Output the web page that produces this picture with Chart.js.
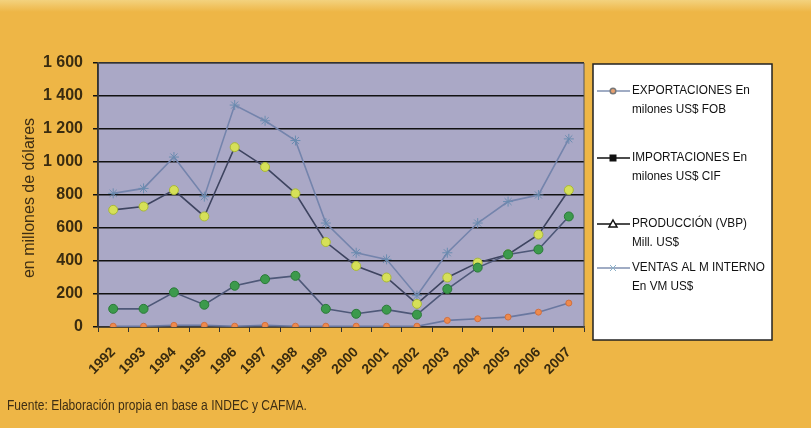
<!DOCTYPE html>
<html>
<head>
<meta charset="utf-8">
<script src="https://cdn.jsdelivr.net/npm/chart.js@4/dist/chart.umd.min.js"></script>
<style>
html,body{margin:0;padding:0;background:#eeb646;}
#wrap{position:relative;width:811px;height:428px;}
</style>
</head>
<body>
<div id="wrap"><canvas id="c" width="811" height="428"></canvas></div>
<script>
const years = ['1992','1993','1994','1995','1996','1997','1998','1999','2000','2001','2002','2003','2004','2005','2006','2007'];
const exportaciones = [5,5,10,10,5,10,5,5,5,5,5,40,50,60,90,145];
const importaciones = [110,110,210,135,250,290,310,110,80,105,75,230,360,440,470,670];
const produccion = [710,730,830,670,1090,970,810,515,370,300,140,300,390,440,560,830];
const ventas = [810,840,1030,790,1345,1250,1130,630,450,410,190,450,630,760,800,1140];
const yTicks = ['0','200','400','600','800','1 000','1 200','1 400','1 600'];
const labels = [
  ['EXPORTACIONES En','milones US$ FOB'],
  ['IMPORTACIONES En','milones US$ CIF'],
  ['PRODUCCIÓN (VBP)','Mill. US$'],
  ['VENTAS AL M INTERNO','En VM US$']
];
const yTitle = 'en millones de dólares';
const source = 'Fuente: Elaboración propia en base a INDEC y CAFMA.';

const FONT = "'Liberation Sans','Arial',sans-serif";

const bgPlugin = {
  id:'bg',
  beforeDraw(chart){
    const {ctx, chartArea:a} = chart;
    ctx.save();
    const g = ctx.createLinearGradient(0,0,0,12);
    g.addColorStop(0,'#f3d27e'); g.addColorStop(1,'#eeb646');
    ctx.fillStyle = '#eeb646';
    ctx.fillRect(0,0,chart.width,chart.height);
    ctx.fillStyle = g;
    ctx.fillRect(0,0,chart.width,12);
    ctx.fillStyle = '#aaa8c6';
    ctx.fillRect(a.left,a.top,a.right-a.left,a.bottom-a.top);
    ctx.restore();
  },
  afterDraw(chart){
    const {ctx, chartArea:a} = chart;
    ctx.save();
    ctx.strokeStyle='#333'; ctx.lineWidth=1.5;
    ctx.beginPath(); ctx.moveTo(a.left,a.top); ctx.lineTo(a.left,a.bottom); ctx.stroke();
    ctx.strokeStyle='#555'; ctx.lineWidth=1;
    ctx.beginPath(); ctx.moveTo(a.left,a.top); ctx.lineTo(a.right,a.top); ctx.lineTo(a.right,a.bottom); ctx.stroke();
    // legend box
    const lx=593, ly=64, lw=179, lh=276;
    ctx.fillStyle='#ffffff'; ctx.fillRect(lx,ly,lw,lh);
    ctx.strokeStyle='#222'; ctx.lineWidth=1.5; ctx.strokeRect(lx,ly,lw,lh);
    const rows=[91,158,224,268];
    const ds = chart.data.datasets;
    rows.forEach((y,i)=>{
      const d = ds[i];
      ctx.strokeStyle = i===1||i===2 ? '#111' : '#8090b0';
      ctx.lineWidth = 1.5;
      ctx.beginPath(); ctx.moveTo(597,y); ctx.lineTo(630,y); ctx.stroke();
      const cx=613;
      if(i===0){ctx.fillStyle='#e8a070';ctx.strokeStyle='#777';ctx.beginPath();ctx.arc(cx,y,2.8,0,Math.PI*2);ctx.fill();ctx.stroke();}
      if(i===1){ctx.fillStyle='#111';ctx.fillRect(cx-3.5,y-3.5,7,7);}
      if(i===2){ctx.strokeStyle='#111';ctx.fillStyle='#fff';ctx.beginPath();ctx.moveTo(cx,y-4);ctx.lineTo(cx+4,y+3);ctx.lineTo(cx-4,y+3);ctx.closePath();ctx.fill();ctx.stroke();}
      if(i===3){ctx.strokeStyle='#8ab0c8';ctx.lineWidth=1;ctx.beginPath();ctx.moveTo(cx-3,y-3);ctx.lineTo(cx+3,y+3);ctx.moveTo(cx+3,y-3);ctx.lineTo(cx-3,y+3);ctx.stroke();}
      ctx.save();
      ctx.translate(632,y); ctx.scale(0.94,1);
      ctx.font = '12.5px '+FONT;
      ctx.textBaseline='middle';
      ctx.fillStyle='#111';
      ctx.fillText(d.label[0],0,0);
      ctx.fillText(d.label[1],0,19);
      ctx.restore();
    });
    // y title
    ctx.save();
    ctx.translate(30,198); ctx.rotate(-Math.PI/2);
    ctx.textAlign='center'; ctx.textBaseline='middle';
    ctx.fillStyle='#3e2e14'; ctx.font='16px '+FONT;
    ctx.fillText(yTitle,0,0);
    ctx.restore();
    // source (slightly condensed)
    ctx.save();
    ctx.translate(7,406); ctx.scale(0.86,1);
    ctx.fillStyle='#3e2e14'; ctx.font='14px '+FONT;
    ctx.textAlign='left'; ctx.textBaseline='middle';
    ctx.fillText(source,0,0);
    ctx.restore();
    ctx.restore();
  }
};

function ds(label,data,line,pt,ptBorder,style,r){
  return {label,data,borderColor:line,borderWidth:1.6,backgroundColor:pt,
    pointBackgroundColor:pt,pointBorderColor:ptBorder,pointBorderWidth:1,
    pointStyle:style,pointRadius:r,tension:0,fill:false};
}

new Chart(document.getElementById('c'),{
  type:'line',
  data:{labels:years,datasets:[
    ds(labels[0],exportaciones,'#6a78a0','#ee8a4c','#d07040','circle',3),
    ds(labels[1],importaciones,'#4e5878','#3c9a4c','#2a7a38','circle',4.5),
    ds(labels[2],produccion,'#3e4460','#d6e058','#a8b838','circle',4.5),
    ds(labels[3],ventas,'#7484ac','#86a6c4','#6a8cb0','star',5)
  ]},
  plugins:[bgPlugin],
  options:{
    responsive:false,animation:false,
    layout:{padding:{left:0,right:227,top:63,bottom:0}},
    plugins:{legend:{display:false},tooltip:{enabled:false}},
    scales:{
      x:{
        offset:true,
        grid:{display:true,drawOnChartArea:false,drawTicks:true,tickLength:5,color:'#333',offset:true},
        border:{display:true,color:'#333',width:1.5},
        ticks:{color:'#3a2c10',font:{family:FONT,size:14,weight:'bold'},minRotation:45,maxRotation:45,padding:12},
        afterFit(s){s.height=428-327;}
      },
      y:{
        min:0,max:1600,
        grid:{color:'#111',lineWidth:1.5,drawTicks:true,tickLength:5},
        border:{display:true,color:'#333',width:1.5},
        ticks:{stepSize:200,color:'#3a2c10',padding:10,
          font:{family:FONT,size:16,weight:'bold'},
          callback:(v,i)=>yTicks[i]},
        afterFit(s){s.width=98;}
      }
    }
  }
});
</script>
</body>
</html>
